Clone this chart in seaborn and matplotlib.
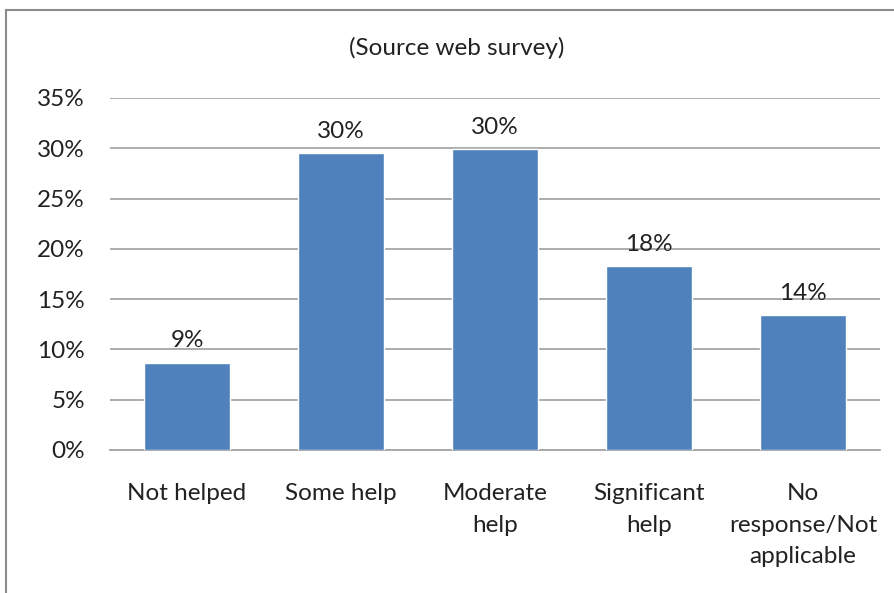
import matplotlib
matplotlib.use("Agg")
import matplotlib.pyplot as plt
import seaborn as sns
import pandas as pd
from matplotlib.patches import Rectangle
from matplotlib.ticker import FuncFormatter

categories = ["Not helped", "Some help", "Moderate\nhelp", "Significant\nhelp",
              "No\nresponse/Not\napplicable"]
values = [8.7, 29.5, 29.9, 18.3, 13.4]
value_labels = ["9%", "30%", "30%", "18%", "14%"]
y_ticks = [0, 5, 10, 15, 20, 25, 30, 35]
title = "(Source web survey)"

sns.set_theme(style="white")
plt.rcParams["font.family"] = ["Lato", "DejaVu Sans"]

FS = 17.5
df = pd.DataFrame({"category": categories, "value": values})

fig = plt.figure(figsize=(8.94, 5.93), dpi=100)
ax = fig.add_axes([110 / 894, 1 - 450 / 593, 770 / 894, 352 / 593])

sns.barplot(data=df, x="category", y="value", color="#4F81BD", saturation=1,
            width=0.56, ax=ax, zorder=3)

ax.set_ylim(0, 35)
ax.set_yticks(y_ticks)
ax.yaxis.set_major_formatter(FuncFormatter(lambda v, p: f"{v:.0f}%"))
ax.grid(axis="y", color="#A6A6A6", linewidth=1.3, zorder=0)
ax.set_axisbelow(True)
for s in ["top", "right", "left"]:
    ax.spines[s].set_visible(False)
ax.spines["bottom"].set_color("#A6A6A6")
ax.spines["bottom"].set_linewidth(1.3)
ax.tick_params(axis="both", length=0, labelsize=FS, colors="#222222")
ax.tick_params(axis="y", pad=18)
ax.tick_params(axis="x", pad=24)
for lbl in ax.get_xticklabels():
    lbl.set_linespacing(1.62)
    lbl.set_verticalalignment("top")
ax.set_xlabel("")
ax.set_ylabel("")

for patch, txt in zip(ax.patches, value_labels):
    ax.annotate(txt, (patch.get_x() + patch.get_width() / 2, patch.get_height()),
                xytext=(0, 8), textcoords="offset points", ha="center", va="bottom",
                fontsize=FS, color="#222222")

fig.text(457 / 894, 1 - 48 / 593, title, ha="center", va="center", fontsize=FS,
         color="#222222")

fig.patches.append(Rectangle((6 / 894, -0.05), 1.1, 1 - 10 / 593 + 0.05,
                             transform=fig.transFigure, fill=False,
                             edgecolor="#8C8C8C", linewidth=1.5))

fig.savefig("out.png", dpi=100, facecolor="white")
